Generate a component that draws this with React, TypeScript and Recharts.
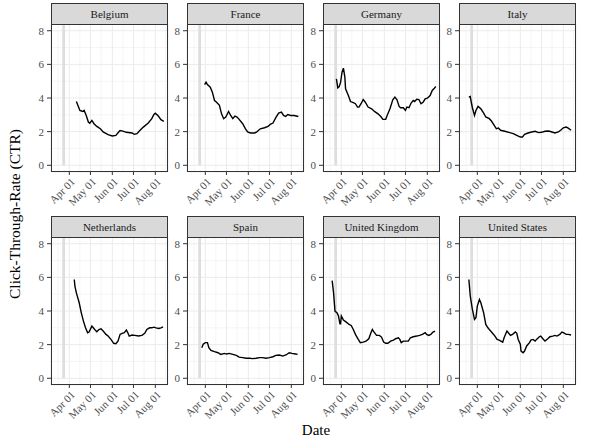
import { LineChart, Line, XAxis, YAxis, CartesianGrid, ReferenceArea } from "recharts"

// CTR by country (date as MM-DD in 2020, value)
const belgium: [string, number][] = [
  ["04-11", 3.79], ["04-16", 3.26], ["04-20", 3.2], ["04-22", 3.26], ["04-25", 2.96], ["04-28", 2.57],
  ["04-30", 2.5], ["05-03", 2.67], ["05-06", 2.47], ["05-10", 2.31], ["05-15", 2.17], ["05-19", 1.98],
  ["05-26", 1.82], ["06-01", 1.74], ["06-06", 1.78], ["06-10", 1.98], ["06-12", 2.07], ["06-16", 2.03],
  ["06-21", 1.96], ["06-29", 1.92], ["07-02", 1.84], ["07-06", 1.88], ["07-10", 2.07], ["07-15", 2.27],
  ["07-22", 2.51], ["07-27", 2.77], ["07-30", 3.02], ["08-01", 3.1], ["08-05", 2.94], ["08-09", 2.71],
  ["08-13", 2.61],
]

const france: [string, number][] = [
  ["03-31", 4.8], ["04-02", 4.94], ["04-04", 4.8], ["04-08", 4.64], ["04-11", 4.35], ["04-14", 3.85],
  ["04-17", 3.75], ["04-21", 3.56], ["04-24", 3.06], ["04-27", 2.77], ["04-30", 2.87], ["05-04", 3.2],
  ["05-07", 2.96], ["05-10", 2.77], ["05-13", 2.92], ["05-16", 2.87], ["05-19", 2.73], ["05-24", 2.47],
  ["05-28", 2.17], ["05-31", 1.98], ["06-04", 1.92], ["06-10", 1.92], ["06-13", 1.98], ["06-18", 2.17],
  ["06-24", 2.23], ["06-29", 2.31], ["07-02", 2.43], ["07-06", 2.51], ["07-10", 2.83], ["07-14", 3.1],
  ["07-18", 3.16], ["07-21", 2.96], ["07-24", 2.9], ["07-27", 3.02], ["07-31", 2.96], ["08-05", 2.96],
  ["08-11", 2.9],
]

const germany: [string, number][] = [
  ["03-25", 5.14], ["03-27", 4.6], ["03-29", 4.68], ["03-31", 4.94], ["04-02", 5.53], ["04-04", 5.77],
  ["04-06", 5.24], ["04-07", 4.55], ["04-11", 4.15], ["04-14", 3.79], ["04-18", 3.72], ["04-21", 3.66],
  ["04-24", 3.46], ["04-26", 3.46], ["04-29", 3.66], ["05-02", 3.91], ["05-05", 3.75], ["05-09", 3.46],
  ["05-14", 3.36], ["05-18", 3.2], ["05-23", 3.06], ["05-27", 2.9], ["05-30", 2.73], ["06-03", 2.73],
  ["06-05", 2.96], ["06-09", 3.36], ["06-13", 3.89], ["06-16", 4.05], ["06-19", 3.89], ["06-22", 3.5],
  ["06-24", 3.42], ["06-28", 3.42], ["07-01", 3.26], ["07-03", 3.46], ["07-06", 3.42], ["07-09", 3.7],
  ["07-12", 3.85], ["07-14", 3.79], ["07-17", 3.93], ["07-20", 3.91], ["07-23", 3.66], ["07-26", 3.75],
  ["07-29", 3.95], ["08-01", 3.99], ["08-05", 4.15], ["08-08", 4.45], ["08-11", 4.58], ["08-13", 4.68],
]

const italy: [string, number][] = [
  ["03-20", 4.05], ["03-22", 4.09], ["03-23", 3.85], ["03-25", 3.42], ["03-28", 2.96], ["03-30", 3.26],
  ["04-02", 3.5], ["04-06", 3.36], ["04-10", 3.1], ["04-13", 2.87], ["04-18", 2.77], ["04-21", 2.63],
  ["04-25", 2.37], ["04-28", 2.17], ["05-01", 2.21], ["05-04", 2.08], ["05-10", 2.02], ["05-17", 1.94],
  ["05-22", 1.88], ["05-27", 1.78], ["06-01", 1.68], ["06-04", 1.68], ["06-07", 1.84], ["06-12", 1.92],
  ["06-17", 1.98], ["06-22", 2.02], ["06-27", 1.94], ["07-01", 1.96], ["07-06", 2.02], ["07-11", 2.04],
  ["07-16", 1.98], ["07-20", 1.92], ["07-25", 1.98], ["07-29", 2.11], ["08-01", 2.23], ["08-05", 2.27],
  ["08-08", 2.21], ["08-12", 2.08],
]

const netherlands: [string, number][] = [
  ["04-08", 5.87], ["04-09", 5.47], ["04-11", 5.08], ["04-15", 4.49], ["04-18", 3.89], ["04-21", 3.4],
  ["04-24", 3.0], ["04-27", 2.71], ["04-29", 2.75], ["05-03", 3.1], ["05-05", 3.0], ["05-07", 2.9],
  ["05-10", 2.77], ["05-13", 2.9], ["05-16", 2.94], ["05-19", 2.81], ["05-23", 2.61], ["05-26", 2.51],
  ["05-30", 2.31], ["06-03", 2.08], ["06-06", 2.06], ["06-09", 2.21], ["06-12", 2.61], ["06-15", 2.67],
  ["06-18", 2.71], ["06-21", 2.87], ["06-23", 2.71], ["06-25", 2.51], ["06-29", 2.57], ["07-03", 2.55],
  ["07-08", 2.51], ["07-13", 2.55], ["07-17", 2.67], ["07-20", 2.9], ["07-24", 3.0], ["07-27", 3.0],
  ["07-30", 3.04], ["08-02", 3.0], ["08-06", 2.96], ["08-09", 3.0], ["08-12", 3.06],
]

const spain: [string, number][] = [
  ["03-27", 1.82], ["03-29", 2.02], ["04-01", 2.12], ["04-04", 2.12], ["04-06", 1.82], ["04-09", 1.66],
  ["04-14", 1.58], ["04-19", 1.52], ["04-23", 1.42], ["04-28", 1.48], ["05-01", 1.44], ["05-05", 1.48],
  ["05-10", 1.42], ["05-15", 1.36], ["05-19", 1.26], ["05-24", 1.23], ["05-29", 1.19], ["06-03", 1.19],
  ["06-07", 1.17], ["06-12", 1.19], ["06-17", 1.23], ["06-21", 1.23], ["06-26", 1.19], ["07-01", 1.23],
  ["07-06", 1.28], ["07-10", 1.36], ["07-15", 1.38], ["07-20", 1.32], ["07-25", 1.4], ["07-29", 1.52],
  ["08-02", 1.48], ["08-05", 1.46], ["08-10", 1.42],
]

const unitedKingdom: [string, number][] = [
  ["03-19", 5.81], ["03-21", 5.08], ["03-23", 3.99], ["03-26", 3.89], ["03-28", 3.7], ["03-30", 3.24],
  ["03-31", 3.24], ["04-01", 3.7], ["04-04", 3.46], ["04-08", 3.34], ["04-12", 3.2], ["04-15", 3.14],
  ["04-18", 2.9], ["04-21", 2.61], ["04-25", 2.31], ["04-28", 2.12], ["05-02", 2.15], ["05-06", 2.21],
  ["05-10", 2.35], ["05-13", 2.71], ["05-15", 2.9], ["05-17", 2.77], ["05-21", 2.55], ["05-25", 2.55],
  ["05-28", 2.45], ["05-31", 2.15], ["06-03", 2.08], ["06-06", 2.08], ["06-10", 2.21], ["06-14", 2.27],
  ["06-17", 2.35], ["06-21", 2.41], ["06-23", 2.31], ["06-25", 2.12], ["06-28", 2.21], ["07-02", 2.21],
  ["07-05", 2.21], ["07-08", 2.41], ["07-12", 2.47], ["07-17", 2.51], ["07-21", 2.55], ["07-25", 2.61],
  ["07-29", 2.71], ["07-31", 2.61], ["08-03", 2.55], ["08-06", 2.61], ["08-09", 2.75], ["08-12", 2.81],
]

const unitedStates: [string, number][] = [
  ["03-20", 5.87], ["03-22", 4.88], ["03-25", 4.09], ["03-28", 3.5], ["03-30", 3.6], ["04-01", 4.29],
  ["04-04", 4.68], ["04-06", 4.49], ["04-10", 3.89], ["04-13", 3.2], ["04-16", 3.0], ["04-19", 2.85],
  ["04-22", 2.71], ["04-26", 2.51], ["04-29", 2.31], ["05-02", 2.27], ["05-07", 2.15], ["05-09", 2.41],
  ["05-13", 2.81], ["05-15", 2.71], ["05-18", 2.55], ["05-21", 2.61], ["05-25", 2.75], ["05-27", 2.67],
  ["05-29", 2.31], ["06-01", 2.02], ["06-02", 1.62], ["06-05", 1.52], ["06-07", 1.62], ["06-10", 1.92],
  ["06-14", 2.12], ["06-16", 2.27], ["06-19", 2.31], ["06-22", 2.21], ["06-24", 2.31], ["06-28", 2.47],
  ["06-30", 2.51], ["07-03", 2.35], ["07-06", 2.21], ["07-10", 2.35], ["07-13", 2.47], ["07-17", 2.51],
  ["07-20", 2.55], ["07-23", 2.51], ["07-27", 2.61], ["07-30", 2.75], ["08-01", 2.71], ["08-05", 2.61],
  ["08-08", 2.61], ["08-12", 2.57],
]

const countries = ["Belgium", "France", "Germany", "Italy", "Netherlands", "Spain", "United Kingdom", "United States"]
const countrySeries = [belgium, france, germany, italy, netherlands, spain, unitedKingdom, unitedStates]

const xTickDates = ["04-01", "05-01", "06-01", "07-01", "08-01"]
const xTickLabels = ["Apr 01", "May 01", "Jun 01", "Jul 01", "Aug 01"]
const xMinorDates = ["03-16", "04-16", "05-16", "06-16", "07-16", "08-16"]
const yTicks = [0, 2, 4, 6, 8]
const yMinor = [1, 3, 5, 7]
const bandDates = ["03-22", "03-26"]

const FONT = "'Liberation Serif', 'Times New Roman', serif"
const PANEL_W = 117
const PANEL_H = 148
const STRIP_H = 21
const Y_AXIS_W = 24
const X_AXIS_H = 45
const colLeft = (c: number) => 51 + c * 136
const rowTop = (r: number) => 24 + r * 213

// days since Apr 1 2020
const dayOf = (md: string) => {
  const [m, d] = md.split("-").map(Number)
  return (Date.UTC(2020, m - 1, d) - Date.UTC(2020, 3, 1)) / 86400000
}

const X_DOMAIN = [-26, 140]
const Y_DOMAIN = [-0.4, 8.4]

const DateTick = (props: any) => {
  const { x, y, payload } = props
  const i = xTickDates.findIndex((d) => dayOf(d) === payload.value)
  return (
    <text
      x={x + 1}
      y={y}
      dy="0.7em"
      textAnchor="end"
      transform={`rotate(-45, ${x + 1}, ${y})`}
      fontSize={11}
      fill="#4D4D4D"
      fontFamily={FONT}
    >
      {xTickLabels[i]}
    </text>
  )
}

function Panel({ name, points, col, row }: { name: string; points: [string, number][]; col: number; row: number }) {
  const data = points.map(([d, v]) => ({ day: dayOf(d), ctr: v }))
  const left = colLeft(col)
  const top = rowTop(row)
  return (
    <>
      <div
        style={{
          position: "absolute",
          left,
          top: top - STRIP_H,
          width: PANEL_W,
          height: STRIP_H + 1,
          boxSizing: "border-box",
          background: "#D9D9D9",
          border: "1px solid #333333",
          fontFamily: FONT,
          fontSize: 11,
          color: "#1A1A1A",
          textAlign: "center",
          lineHeight: `${STRIP_H - 1}px`,
        }}
      >
        {name}
      </div>
      <div style={{ position: "absolute", left: left - Y_AXIS_W, top }}>
        <LineChart
          width={Y_AXIS_W + PANEL_W + 2}
          height={PANEL_H + X_AXIS_H}
          data={data}
          margin={{ top: 0, right: 2, bottom: 0, left: 0 }}
        >
          <CartesianGrid
            stroke="#F0F0F0"
            strokeWidth={0.7}
            horizontalValues={yMinor}
            verticalValues={xMinorDates.map(dayOf)}
          />
          <CartesianGrid stroke="#EBEBEB" strokeWidth={1} />
          <XAxis
            dataKey="day"
            type="number"
            domain={X_DOMAIN}
            ticks={xTickDates.map(dayOf)}
            allowDataOverflow
            axisLine={false}
            tickLine={{ stroke: "#333333" }}
            tickSize={3}
            tickMargin={2}
            height={X_AXIS_H}
            tick={<DateTick />}
            interval={0}
          />
          <YAxis
            type="number"
            domain={Y_DOMAIN}
            ticks={yTicks}
            allowDataOverflow
            axisLine={false}
            tickLine={{ stroke: "#333333" }}
            tickSize={4}
            tickMargin={3}
            width={Y_AXIS_W}
            tick={{ fontSize: 11, fill: "#4D4D4D", fontFamily: FONT }}
            interval={0}
          />
          <ReferenceArea
            x1={dayOf(bandDates[0])}
            x2={dayOf(bandDates[1])}
            y1={0}
            y2={Y_DOMAIN[1]}
            fill="#DEDEDE"
            fillOpacity={1}
            stroke="none"
          />
          <Line
            type="linear"
            dataKey="ctr"
            stroke="#000000"
            strokeWidth={1.4}
            dot={false}
            isAnimationActive={false}
          />
        </LineChart>
      </div>
      <div
        style={{
          position: "absolute",
          left,
          top,
          width: PANEL_W,
          height: PANEL_H,
          boxSizing: "border-box",
          border: "1px solid #333333",
          pointerEvents: "none",
        }}
      />
    </>
  )
}

export default function App() {
  return (
    <div style={{ position: "absolute", left: 0, top: 0, width: 600, height: 439, background: "#fff", overflow: "hidden" }}>
      {countries.map((c, i) => (
        <Panel key={c} name={c} points={countrySeries[i]} col={i % 4} row={Math.floor(i / 4)} />
      ))}
      <svg width={600} height={439} style={{ position: "absolute", left: 0, top: 0, pointerEvents: "none" }}>
        <text
          x={20}
          y={214}
          transform="rotate(-90, 20, 214)"
          textAnchor="middle"
          fontSize={15.5}
          fill="#000"
          fontFamily={FONT}
        >
          Click-Through-Rate (CTR)
        </text>
        <text x={316} y={435} textAnchor="middle" fontSize={15} fill="#000" fontFamily={FONT}>
          Date
        </text>
      </svg>
    </div>
  )
}
